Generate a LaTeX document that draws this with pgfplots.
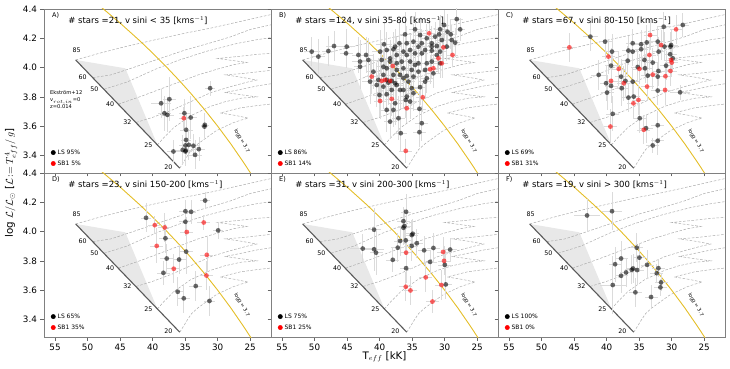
\documentclass[border=0pt]{standalone}
\usepackage{fontspec}
\setmainfont{DejaVu Sans}
\usepackage{pgfplots}
\usepackage{pgfplotstable}
\pgfplotsset{compat=1.18}

% ---------------- tracks (Ekstrom+12) ----------------
\pgfplotstableread{
x y
51.83 4.052
48 4.10
44 4.145
39 4.196
35 4.235
31 4.27
27 4.31
24 4.34
21 4.37
}\tA
\pgfplotstableread{
x y
49.21 3.931
46.4 3.95
43 4.00
39 4.06
35 4.12
31 4.17
28 4.21
25 4.26
21 4.30
}\tB
\pgfplotstableread{
x y
47.47 3.852
44 3.90
41 3.96
39.5 3.99
36 4.05
31.8 4.11
27 4.165
24 4.19
21 4.21
}\tC
\pgfplotstableread{
x y
45.27 3.750
42 3.80
39 3.85
36 3.90
33 3.95
30 3.99
27.5 4.02
25.5 4.035
28 4.05
30 4.062
27 4.075
24 4.09
21 4.10
}\tD
\pgfplotstableread{
x y
42.55 3.625
40 3.66
37 3.71
34 3.77
31 3.83
28 3.87
25.5 3.90
24 3.915
26.5 3.935
28.8 3.95
26 3.96
21 3.985
}\tE
\pgfplotstableread{
x y
39.26 3.472
38.3 3.52
36.75 3.59
34.2 3.67
31.1 3.735
29 3.765
26.5 3.79
24 3.80
26.5 3.815
28.8 3.83
26 3.855
23.9 3.875
21 3.895
}\tF
\pgfplotstableread{
x y
35.83 3.313
35.3 3.35
34.75 3.39
34.0 3.44
33.0 3.48
31.6 3.525
30.35 3.565
29 3.595
27.5 3.625
26.5 3.64
25.3 3.655
27.5 3.675
29.6 3.69
26.5 3.725
24 3.74
21 3.755
}\tG
\pgfplotstableread{
x y
51.83 4.052
35.83 3.313
}\zams
\pgfplotstableread{
x y
51.83 4.052
44.2 3.995
39.26 3.472
}\shadeT
\pgfplotstableread{
x y
48 4.416
45 4.304
42 4.184
40 4.099
38 4.010
36 3.916
35 3.867
34 3.817
32 3.712
30 3.600
28 3.480
26 3.351
25 3.283
24 3.212
}\ylw

% ---------------- data ----------------
\pgfplotstableread{
x y ex ey
31.16 3.859 0.8 0.05
38.70 3.756 1.5 0.10
37.42 3.784 1.0 0.15
38.19 3.688 1.0 0.12
37.73 3.677 1.0 0.12
35.11 3.688 0.8 0.10
34.14 3.659 1.0 0.15
34.85 3.575 1.0 0.10
31.98 3.609 0.6 0.08
32.03 3.597 0.6 0.08
34.85 3.506 0.8 0.10
36.80 3.427 1.0 0.08
34.96 3.468 1.0 0.10
34.44 3.472 1.0 0.10
33.73 3.466 1.0 0.08
34.91 3.434 1.2 0.10
34.96 3.427 1.0 0.10
32.90 3.443 1.0 0.08
33.47 3.404 1.0 0.10
35.37 3.438 1.0 0.10
}\Ablk
\pgfplotstableread{
x y ex ey
35.21 3.654 0.8 0.08
}\Ared

\pgfplotstableread{
x y ex ey
28.14 4.331 1.0 0.10
34.55 4.261 1.0 0.12
30.70 4.261 1.0 0.10
30.09 4.291 0.8 0.10
29.57 4.245 1.0 0.12
27.62 4.261 0.8 0.08
29.06 4.227 1.0 0.10
30.85 4.227 1.0 0.12
31.47 4.211 1.0 0.10
36.09 4.227 1.0 0.15
33.78 4.222 1.0 0.12
32.75 4.200 1.0 0.10
30.44 4.188 1.0 0.12
28.91 4.188 1.0 0.10
28.39 4.170 0.8 0.10
39.32 4.159 1.2 0.15
37.62 4.143 1.0 0.12
36.96 4.166 1.0 0.15
35.83 4.166 1.0 0.12
34.80 4.177 1.0 0.12
33.52 4.166 1.0 0.10
31.98 4.166 1.0 0.12
31.21 4.147 1.0 0.10
47.01 4.147 1.2 0.10
45.06 4.143 1.2 0.12
47.88 4.113 1.0 0.10
50.44 4.109 1.2 0.10
49.42 4.075 1.0 0.12
45.16 4.097 1.0 0.10
43.26 4.086 1.0 0.12
42.08 4.086 1.0 0.12
39.93 4.109 1.2 0.15
38.91 4.120 1.0 0.12
37.88 4.125 1.0 0.12
36.34 4.109 1.0 0.12
35.32 4.120 1.0 0.10
34.03 4.143 1.0 0.10
33.01 4.120 1.0 0.10
31.98 4.116 1.0 0.12
31.98 4.143 0.8 0.10
30.70 4.109 1.0 0.10
37.37 4.086 1.0 0.12
35.83 4.086 1.0 0.12
34.55 4.097 1.0 0.10
33.52 4.097 1.0 0.12
43.01 4.041 1.2 0.15
41.73 4.052 1.2 0.15
39.68 4.052 1.0 0.12
38.39 4.041 1.0 0.15
37.37 4.029 1.0 0.12
36.60 4.041 1.0 0.12
35.32 4.041 1.0 0.12
34.03 4.029 1.0 0.10
31.98 4.041 1.0 0.12
30.70 4.029 1.0 0.10
43.01 4.006 1.0 0.15
38.91 3.995 1.0 0.15
37.37 3.984 1.0 0.12
36.34 3.995 1.0 0.12
35.06 3.984 1.0 0.12
34.03 3.972 1.0 0.12
33.01 3.984 1.0 0.12
31.73 3.961 1.0 0.10
40.19 3.916 1.2 0.15
38.91 3.916 1.0 0.15
38.14 3.909 1.0 0.12
38.65 3.897 1.0 0.15
37.62 3.893 1.0 0.12
36.34 3.927 1.0 0.12
35.83 3.943 1.0 0.12
34.80 3.938 1.0 0.12
33.01 3.904 1.0 0.12
41.47 3.904 1.2 0.15
40.44 3.881 1.0 0.15
39.42 3.870 1.0 0.15
37.37 3.881 1.0 0.12
36.86 3.847 1.0 0.12
35.06 3.859 1.0 0.12
33.78 3.866 1.0 0.12
40.03 3.813 1.0 0.15
38.91 3.818 1.0 0.12
34.80 3.825 1.0 0.12
35.83 3.802 1.0 0.12
37.62 3.756 1.0 0.15
35.98 3.779 1.0 0.12
35.32 3.768 1.0 0.12
38.91 3.711 1.0 0.15
37.88 3.711 1.0 0.12
33.88 3.718 1.0 0.12
37.11 3.654 1.0 0.15
38.39 3.631 1.0 0.12
33.52 3.620 1.0 0.12
36.75 3.552 1.0 0.12
33.88 3.559 1.0 0.10
38.39 4.063 1.0 0.12
39.42 4.006 1.0 0.12
37.88 3.950 1.0 0.12
35.58 3.904 1.0 0.12
34.55 4.018 1.0 0.10
32.75 4.029 1.0 0.10
36.86 3.950 1.0 0.12
40.96 3.972 1.0 0.12
39.42 3.950 1.0 0.12
31.21 4.086 1.0 0.10
29.68 4.143 1.0 0.10
32.75 3.927 1.0 0.10
38.14 3.847 1.0 0.12
36.34 3.847 1.0 0.12
}\Bblk
\pgfplotstableread{
x y ex ey
32.39 4.234 1.0 0.10
30.19 4.138 1.0 0.10
30.96 4.063 1.0 0.10
30.44 4.029 1.0 0.10
28.80 4.086 0.8 0.08
37.98 4.011 1.0 0.12
32.24 3.988 1.0 0.10
41.21 3.938 1.0 0.12
39.68 3.909 1.0 0.12
39.93 3.772 1.0 0.12
38.14 3.786 1.0 0.12
33.37 3.797 1.0 0.10
35.83 3.722 1.0 0.10
35.98 3.431 1.0 0.08
39.17 3.916 1.0 0.12
38.39 3.909 1.0 0.12
31.73 3.995 1.0 0.10
}\Bred

\pgfplotstableread{
x y ex ey
28.29 4.291 1.0 0.08
31.22 4.279 1.0 0.10
42.50 4.211 1.2 0.10
40.24 4.177 1.0 0.12
34.70 4.159 1.0 0.10
33.83 4.172 1.0 0.12
32.14 4.177 1.0 0.10
31.11 4.143 1.0 0.10
30.09 4.154 1.0 0.10
39.17 4.109 1.0 0.12
36.65 4.116 1.0 0.10
35.99 4.109 1.0 0.10
34.70 4.125 1.0 0.12
31.99 4.109 1.0 0.10
30.24 4.091 1.0 0.10
29.83 4.063 0.8 0.08
39.32 4.013 1.0 0.12
36.76 4.047 1.0 0.10
34.19 4.052 1.0 0.10
32.91 4.034 1.0 0.10
30.86 4.013 1.0 0.10
41.22 3.950 1.2 0.10
40.09 3.893 1.0 0.12
39.32 3.875 1.0 0.12
37.11 3.909 1.0 0.12
35.99 3.904 1.0 0.10
33.68 3.945 1.0 0.10
32.14 3.938 1.0 0.10
32.04 3.977 1.0 0.10
34.09 3.995 1.0 0.10
39.94 3.829 1.0 0.12
37.68 3.859 1.0 0.12
32.14 3.843 1.0 0.10
28.70 3.831 1.5 0.05
36.65 3.795 1.0 0.10
35.83 3.802 1.0 0.10
39.06 3.684 1.0 0.12
34.91 3.654 1.0 0.10
33.94 3.586 1.0 0.10
32.14 3.606 1.0 0.10
32.14 3.500 1.0 0.10
32.91 3.468 1.0 0.05
35.99 4.166 1.0 0.10
30.19 4.143 1.0 0.10
35.22 4.004 1.0 0.10
37.78 3.938 1.0 0.12
}\Cblk
\pgfplotstableread{
x y ex ey
29.32 4.261 1.0 0.10
33.32 4.222 1.0 0.10
31.63 4.154 1.0 0.10
45.73 4.138 1.2 0.10
33.42 4.086 1.0 0.10
30.09 4.052 1.0 0.10
39.73 4.075 1.0 0.12
38.14 3.991 1.0 0.12
34.96 3.991 1.0 0.10
30.19 3.977 1.0 0.10
39.32 3.909 1.0 0.12
37.37 3.893 1.0 0.12
32.91 3.952 1.0 0.10
30.96 3.941 1.0 0.10
33.78 3.870 1.0 0.10
31.01 3.847 1.0 0.10
35.11 3.779 1.0 0.10
35.88 3.756 1.0 0.10
39.42 3.597 1.0 0.12
34.29 3.575 1.0 0.10
29.99 4.034 1.0 0.10
}\Cred

\pgfplotstableread{
x y ex ey
31.93 4.212 0.8 0.06
41.01 4.094 0.8 0.10
34.96 4.139 1.0 0.08
34.09 4.135 0.8 0.08
34.96 4.067 1.0 0.10
29.93 4.008 0.8 0.06
38.03 3.954 1.0 0.10
34.85 3.863 1.0 0.15
37.83 3.816 1.0 0.10
35.93 3.809 1.0 0.10
38.34 3.718 1.0 0.08
33.37 3.628 1.0 0.10
36.14 3.589 0.8 0.10
35.21 3.544 1.0 0.10
31.26 3.526 0.8 0.10
}\Dblk
\pgfplotstableread{
x y ex ey
39.67 4.044 1.0 0.06
38.14 4.028 1.0 0.10
32.14 4.062 1.0 0.05
34.75 3.997 1.0 0.10
39.37 3.902 1.0 0.12
31.67 3.841 1.0 0.12
36.75 3.746 1.0 0.10
31.73 3.700 1.0 0.10
}\Dred

\pgfplotstableread{
x y ex ey
35.93 4.135 0.8 0.12
36.34 4.071 1.0 0.10
36.19 4.037 1.0 0.12
36.34 4.026 1.0 0.12
40.85 4.013 1.0 0.15
34.91 3.985 1.0 0.10
35.06 3.976 1.0 0.10
35.98 3.940 1.0 0.10
36.86 3.936 1.0 0.10
42.60 3.884 2.0 0.10
40.85 3.879 1.5 0.15
40.55 3.856 1.0 0.15
37.21 3.890 1.0 0.10
34.29 3.920 1.0 0.10
35.06 3.902 1.0 0.10
33.16 3.872 1.0 0.10
31.73 3.888 1.0 0.10
29.16 3.877 1.0 0.08
37.98 3.807 1.0 0.08
32.24 3.793 1.0 0.08
29.98 3.773 1.0 0.10
35.93 3.750 1.0 0.10
29.83 3.639 1.0 0.10
}\Eblk
\pgfplotstableread{
x y ex ey
35.93 3.856 1.0 0.10
30.24 3.861 1.0 0.10
30.09 3.800 1.0 0.10
32.91 3.687 1.0 0.10
30.50 3.635 1.0 0.10
35.98 3.623 1.0 0.10
35.26 3.598 1.0 0.10
31.88 3.522 1.0 0.08
}\Ered

\pgfplotstableread{
x y ex ey
43.01 4.110 2.0 0.11
39.17 4.139 1.5 0.13
35.37 3.890 1.0 0.10
34.96 3.822 1.0 0.10
37.78 3.816 1.0 0.12
38.70 3.777 1.0 0.12
33.78 3.773 1.0 0.10
32.04 3.750 1.0 0.06
35.94 3.748 1.0 0.10
36.14 3.739 1.0 0.10
35.32 3.737 1.0 0.10
37.01 3.721 1.0 0.10
37.78 3.698 1.0 0.12
32.29 3.716 1.0 0.06
31.63 3.653 1.0 0.06
31.73 3.619 1.0 0.06
39.06 3.635 2.0 0.20
35.58 3.585 1.0 0.10
33.17 3.553 1.0 0.08
}\Fblk

\definecolor{ylwc}{RGB}{228,190,40}
\definecolor{ptred}{RGB}{255,0,0}
\pgfplotsset{
  panel/.style={
    scale only axis, width=227pt, height=164pt, anchor=south west,
    xmin=21.8, xmax=56.7, x dir=reverse, ymin=3.28, ymax=4.4,
    xtick={25,30,35,40,45,50,55}, ytick={3.4,3.6,3.8,4.0,4.2,4.4},
    tick align=outside, xtick pos=left, ytick pos=left,
    major tick length=3.5pt,
    axis line style={gray, line width=0.7pt},
    tick style={gray!80!black, line width=0.6pt},
    ticklabel style={font=\fontsize{8.8}{10}\selectfont},
    yticklabel style={/pgf/number format/.cd, fixed, fixed zerofill, precision=1},
    /pgf/number format/assume math mode=true,
    legend style={at={(0.025,0.02)}, anchor=south west, draw=none, fill=none,
      font=\fontsize{6}{7}\selectfont, row sep=1pt, inner sep=1pt},
    legend cell align=left,
  },
  trk/.style={forget plot, gray!65, line width=0.5pt, dash pattern=on 2.6pt off 1.6pt},
  blkpts/.style={forget plot, only marks, mark=*, mark size=2.4pt,
    mark options={draw opacity=0, fill=black, fill opacity=0.58},
    error bars/.cd, x dir=both, x explicit, y dir=both, y explicit,
    error mark=none, error bar style={gray!28, line width=0.6pt}},
  redpts/.style={forget plot, only marks, mark=*, mark size=2.4pt,
    mark options={draw opacity=0, fill=ptred, fill opacity=0.6},
    error bars/.cd, x dir=both, x explicit, y dir=both, y explicit,
    error mark=none, error bar style={gray!28, line width=0.6pt}},
}
\newcommand{\common}{%
  \addplot[forget plot, fill=gray!18, draw=none] table {\shadeT};
  \addplot[trk] table {\tA};
  \addplot[trk] table {\tB};
  \addplot[trk] table {\tC};
  \addplot[trk] table {\tD};
  \addplot[trk] table {\tE};
  \addplot[trk] table {\tF};
  \addplot[trk] table {\tG};
  \addplot[forget plot, gray!70!black, line width=1.1pt] table {\zams};
  \addplot[forget plot, ylwc, line width=0.9pt] table {\ylw};
  \begin{scope}[every node/.style={font=\fontsize{6.3}{7}\selectfont, inner sep=0pt}]
  \node at (axis cs:51.67,4.116) {85};
  \node at (axis cs:50.75,3.931) {60};
  \node at (axis cs:48.96,3.852) {50};
  \node at (axis cs:46.55,3.750) {40};
  \node at (axis cs:43.88,3.625) {32};
  \node at (axis cs:40.65,3.472) {25};
  \node at (axis cs:37.57,3.318) {20};
  \end{scope}
  \node[rotate=-60, font=\fontsize{5}{6}\selectfont, inner sep=0pt] at (axis cs:26.3,3.50) {logg = 3.7};
}
\newcommand{\ttl}[2]{%
  \node[anchor=west, font=\fontsize{6.5}{7}\selectfont, inner sep=0pt] at (rel axis cs:0.035,0.963) {#1};
  \node[anchor=base west, font=\fontsize{8.5}{10}\selectfont, inner sep=0pt] at (rel axis cs:0.106,0.913) {#2};
}
\newcommand{\leg}[2]{%
  \addlegendimage{legend image code/.code={\fill[black] (0.12cm,0cm) circle (2.2pt);}}
  \addlegendentry{#1}
  \addlegendimage{legend image code/.code={\fill[ptred] (0.12cm,0cm) circle (2.2pt);}}
  \addlegendentry{#2}
}

\begin{document}
\begin{tikzpicture}
\path[use as bounding box] (0,0) rectangle (730pt,369pt);

% ---- A ----
\begin{axis}[panel, at={(44pt,196pt)}, xticklabels={}]
\common
\addplot[blkpts] table[x=x,y=y,x error=ex,y error=ey] {\Ablk};
\addplot[redpts] table[x=x,y=y,x error=ex,y error=ey] {\Ared};
\leg{LS 95\%}{SB1 5\%}
\ttl{A)}{\# stars =21, v sini < 35 [kms$^{-1}$]}
\node[anchor=north west, align=left, font=\fontsize{5.2}{7.2}\selectfont, inner sep=0pt] at (axis cs:55.8,3.845) {Ekström+12\\v$_{rot,in}$=0\\z=0.014};
\end{axis}

% ---- B ----
\begin{axis}[panel, at={(271pt,196pt)}, xticklabels={}, yticklabels={}]
\common
\addplot[blkpts] table[x=x,y=y,x error=ex,y error=ey] {\Bblk};
\addplot[redpts] table[x=x,y=y,x error=ex,y error=ey] {\Bred};
\leg{LS 86\%}{SB1 14\%}
\ttl{B)}{\# stars =124, v sini 35-80 [kms$^{-1}$]}
\end{axis}

% ---- C ----
\begin{axis}[panel, at={(498pt,196pt)}, xticklabels={}, yticklabels={}]
\common
\addplot[blkpts] table[x=x,y=y,x error=ex,y error=ey] {\Cblk};
\addplot[redpts] table[x=x,y=y,x error=ex,y error=ey] {\Cred};
\leg{LS 69\%}{SB1 31\%}
\ttl{C)}{\# stars =67, v sini 80-150 [kms$^{-1}$]}
\end{axis}

% ---- D ----
\begin{axis}[panel, at={(44pt,32pt)}]
\common
\addplot[blkpts] table[x=x,y=y,x error=ex,y error=ey] {\Dblk};
\addplot[redpts] table[x=x,y=y,x error=ex,y error=ey] {\Dred};
\leg{LS 65\%}{SB1 35\%}
\ttl{D)}{\# stars =23, v sini 150-200 [kms$^{-1}$]}
\end{axis}

% ---- E ----
\begin{axis}[panel, at={(271pt,32pt)}, yticklabels={}]
\common
\addplot[blkpts] table[x=x,y=y,x error=ex,y error=ey] {\Eblk};
\addplot[redpts] table[x=x,y=y,x error=ex,y error=ey] {\Ered};
\leg{LS 75\%}{SB1 25\%}
\ttl{E)}{\# stars =31, v sini 200-300 [kms$^{-1}$]}
\end{axis}

% ---- F ----
\begin{axis}[panel, at={(498pt,32pt)}, yticklabels={}]
\common
\addplot[blkpts] table[x=x,y=y,x error=ex,y error=ey] {\Fblk};
\leg{LS 100\%}{SB1 0\%}
\ttl{F)}{\# stars =19, v sini > 300 [kms$^{-1}$]}
\end{axis}

\node[rotate=90, font=\fontsize{10.3}{12}\selectfont] at (11pt,186pt) {log $\mathcal{L}/\mathcal{L}_{\odot}$ [$\mathcal{L}\!:=T^{4}_{eff}/\,g$]};
\node[font=\fontsize{10.3}{12}\selectfont] at (384.5pt,12pt) {T$_{eff}$ [kK]};
\end{tikzpicture}
\end{document}
